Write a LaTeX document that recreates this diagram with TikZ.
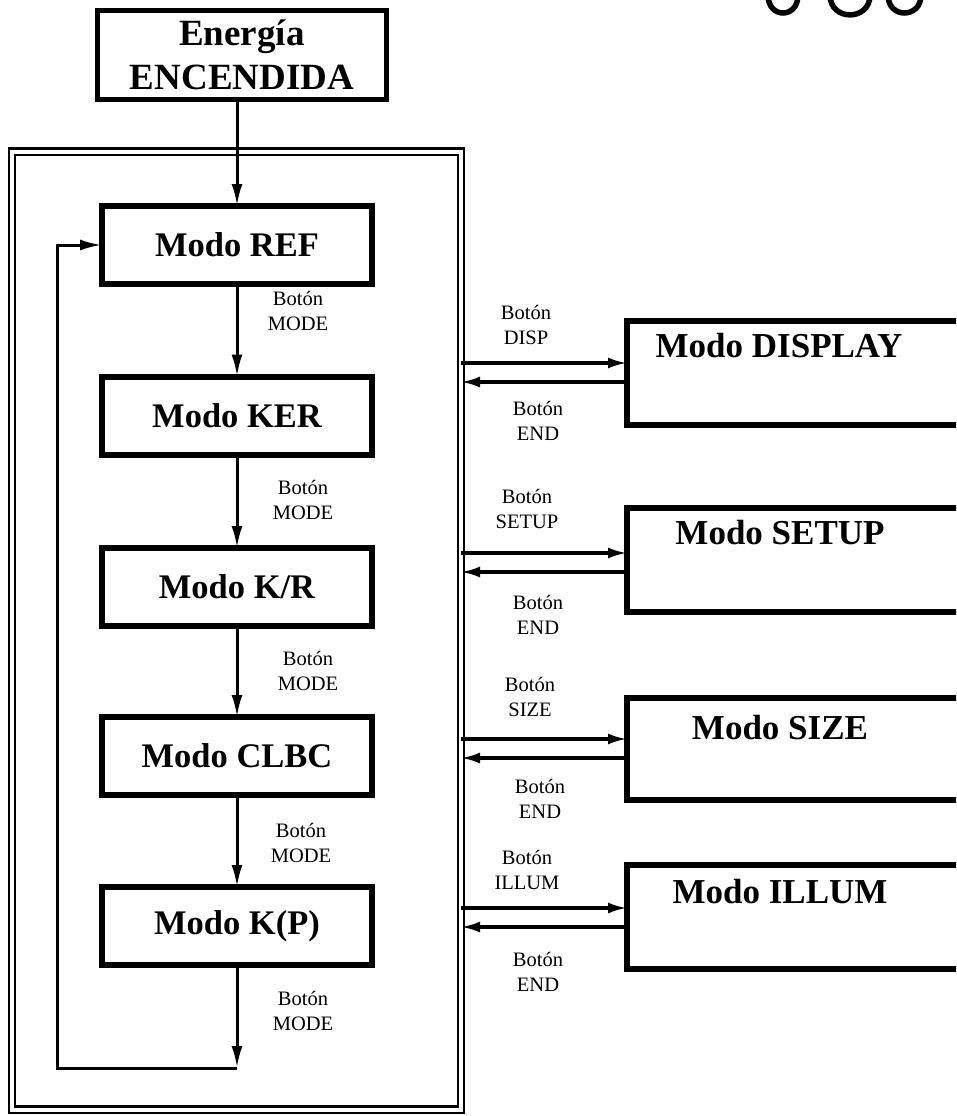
\documentclass[tikz,border=0pt]{standalone}
\usepackage{fontspec}
\setmainfont{Liberation Serif}
\usetikzlibrary{arrows.meta,shadows}
\begin{document}
\begin{tikzpicture}[x=1pt,y=-1pt,
  mbox/.style={draw, line width=6pt, fill=white, outer sep=0pt, inner sep=0pt,
    minimum width=270pt, minimum height=78pt,
    font=\bfseries\fontsize{34.5}{38}\selectfont,
    drop shadow={shadow xshift=3pt, shadow yshift=-3pt, opacity=1, fill=black}},
  topbox/.style={draw, line width=5pt, fill=white, outer sep=0pt, align=center,
    minimum width=289pt, minimum height=88pt,
    font=\bfseries\fontsize{37}{44}\selectfont},
  rbox/.style={draw, line width=6pt, outer sep=0pt, minimum width=340pt},
  rtitle/.style={font=\bfseries\fontsize{35}{38}\selectfont},
  lbl/.style={align=center, font=\fontsize{20.5}{24.5}\selectfont, inner sep=0pt},
  varr/.style={line width=3pt, -{Latex[length=22pt,width=11pt]}},
  harr/.style={line width=3.2pt, -{Latex[length=19pt,width=11pt]}},
  frm/.style={draw, double, double distance=4pt, line width=2.2pt, outer sep=0pt, inner sep=0pt,
    minimum width=449pt, minimum height=958pt}
]
\useasboundingbox (0,0) rectangle (956,1116);
\clip (0,0) rectangle (956,1116);

% stamp fragment at top right
\draw[line width=5.5pt] (768,-5) .. controls (768,19) and (798,19) .. (798,-5);
\draw[line width=5.5pt] (830,-5) .. controls (830,21.5) and (870,21.5) .. (870,-5);
\draw[line width=5.5pt] (888,-5) .. controls (888,19) and (921,19) .. (921,-5);

% outer frame
\node[frm] (frame) at (236.5,630.5) {};

% top box
\node[topbox] (power) at (242,55) {Energía\\ENCENDIDA};

% mode column
\node[mbox] (ref)  at (237,245)   {Modo REF};
\node[mbox] (ker)  at (237,415.5) {Modo KER};
\node[mbox] (kr)   at (237,587)   {Modo K/R};
\node[mbox] (clbc) at (237,756)   {Modo CLBC};
\node[mbox] (kp)   at (237,926)   {Modo K(P)};

\draw[varr] (power.south -| ref.north) -- (ref.north);
\draw[varr] (ref.south) -- (ker.north);
\draw[varr] (ker.south) -- (kr.north);
\draw[varr] (kr.south) -- (clbc.north);
\draw[varr] (clbc.south) -- (kp.north);

\coordinate (loopR) at (237,1068);
\coordinate (loopL) at (57,1068);
\draw[varr] (kp.south) -- (loopR);
\draw[varr] (loopR) -- (loopL) -- (loopL |- ref.west) -- (ref.west);

\node[lbl] (m1) at (298,311)  {Botón\\MODE};
\node[lbl] (m2) at (303,500)  {Botón\\MODE};
\node[lbl] (m3) at (308,671)  {Botón\\MODE};
\node[lbl] (m4) at (301,843)  {Botón\\MODE};
\node[lbl] (m5) at (303,1011) {Botón\\MODE};

% right boxes
\node[rbox, minimum height=104pt] (disp)  at (797,373) {};
\node[rbox, minimum height=104pt] (setup) at (797,560) {};
\node[rbox, minimum height=102pt] (size)  at (797,749) {};
\node[rbox, minimum height=104pt] (illum) at (797,917) {};
\node[rtitle] (tdisp)  at (779,346) {Modo DISPLAY};
\node[rtitle] (tsetup) at (780,533) {Modo SETUP};
\node[rtitle] (tsize)  at (780,728) {Modo SIZE};
\node[rtitle] (tillum) at (780,892) {Modo ILLUM};

\draw[harr] (frame.east |- 0,363) -- (disp.west |- 0,363);
\draw[harr] (disp.west |- 0,382) -- (frame.east |- 0,382);
\draw[harr] (frame.east |- 0,553) -- (setup.west |- 0,553);
\draw[harr] (setup.west |- 0,572) -- (frame.east |- 0,572);
\draw[harr] (frame.east |- 0,739) -- (size.west |- 0,739);
\draw[harr] (size.west |- 0,758) -- (frame.east |- 0,758);
\draw[harr] (frame.east |- 0,908) -- (illum.west |- 0,908);
\draw[harr] (illum.west |- 0,927) -- (frame.east |- 0,927);

\node[lbl] (ldisp)  at (526,325) {Botón\\DISP};
\node[lbl] (edisp)  at (538,421) {Botón\\END};
\node[lbl] (lsetup) at (527,509) {Botón\\SETUP};
\node[lbl] (esetup) at (538,615) {Botón\\END};
\node[lbl] (lsize)  at (530,697) {Botón\\SIZE};
\node[lbl] (esize)  at (540,799) {Botón\\END};
\node[lbl] (lillum) at (527,870) {Botón\\ILLUM};
\node[lbl] (eillum) at (538,972) {Botón\\END};
\end{tikzpicture}
\end{document}
